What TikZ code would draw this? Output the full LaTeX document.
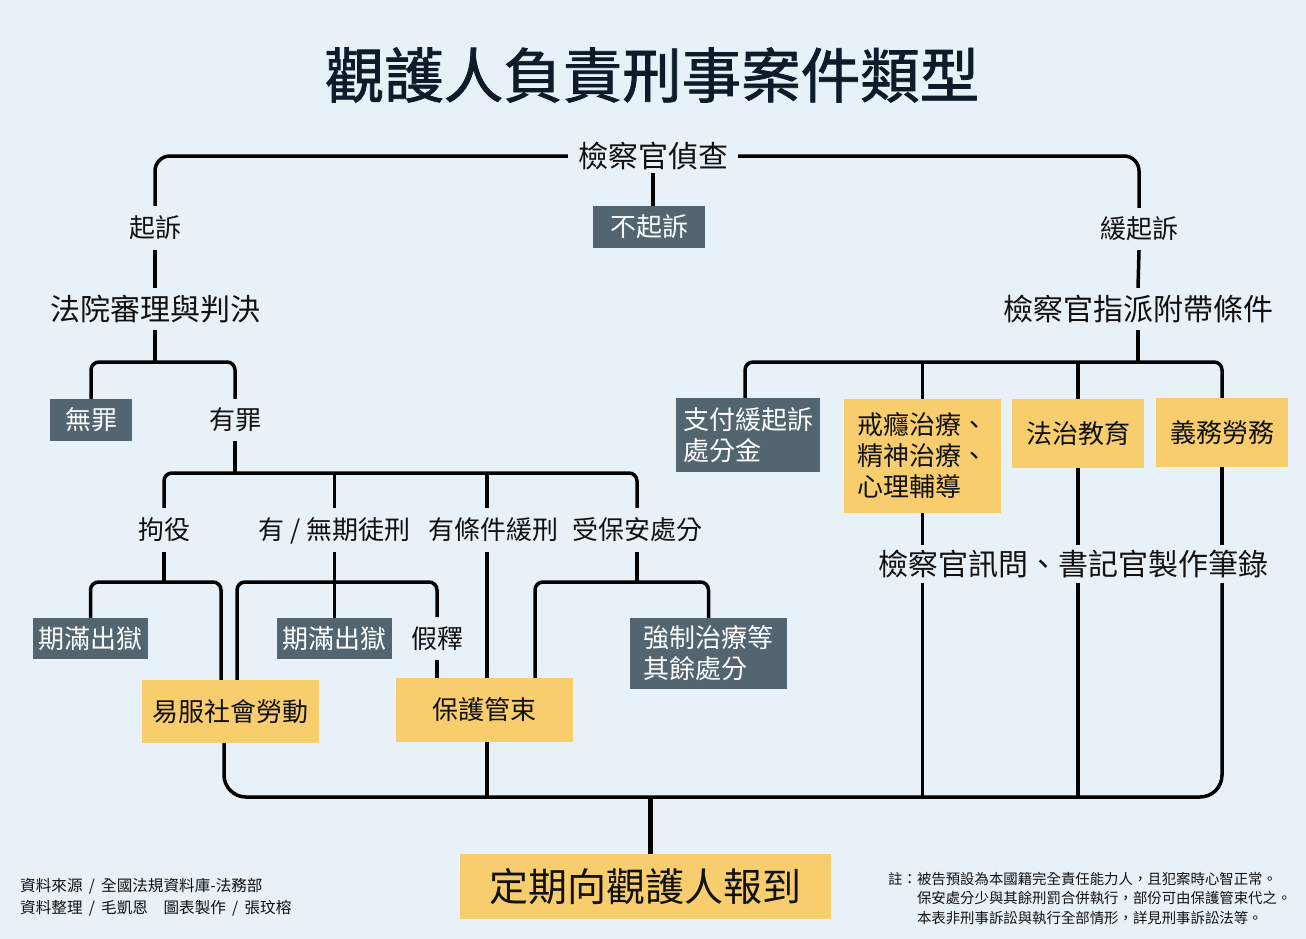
\documentclass[tikz,border=0pt]{standalone}
\usepackage{fontspec}
\setmainfont{Noto Sans CJK TC}
\newfontfamily\titlefont{Noto Sans CJK TC}[FakeBold=1.3]
\newcommand\myslash{\hspace{0.4em}/\hspace{0.4em}}
\definecolor{bgc}{HTML}{E8F1F8}
\definecolor{grayc}{HTML}{536570}
\definecolor{yelc}{HTML}{F7CD6E}
\definecolor{titc}{HTML}{0F1B2B}
\definecolor{txtc}{HTML}{111111}
\begin{document}
\begin{tikzpicture}[x=1pt,y=-1pt,
  conn/.style={line width=3.5pt, draw=black, rounded corners=8pt},
  lbl/.style={inner xsep=0pt, inner ysep=0pt, font=\fontsize{26}{30}\selectfont, text=txtc, text height=19.8pt, text depth=0pt, minimum height=44pt},
  lblbig/.style={inner xsep=0pt, inner ysep=0pt, font=\fontsize{30}{34}\selectfont, text=txtc, text height=22.8pt, text depth=0pt, minimum height=42pt},
  graybox/.style={fill=grayc, text=white, inner sep=0pt, font=\fontsize{26}{31}\selectfont, align=left},
  yelbox/.style={fill=yelc, text=txtc, inner sep=0pt, font=\fontsize{26}{31}\selectfont, align=left},
  onel/.style={text height=19.8pt, text depth=0pt}
]
\useasboundingbox (0,0) rectangle (1306,939);
\fill[bgc] (0,0) rectangle (1306,939);

% title
\node[font=\fontsize{59.5}{64}\selectfont\titlefont, text=titc, inner sep=0pt] (title) at (652,75) {觀護人負責刑事案件類型};

% top
\node[lblbig, inner xsep=10pt, minimum height=34pt] (jc) at (653,156) {檢察官偵查};
\node[graybox, onel, minimum width=112pt, minimum height=42pt] (bqs) at (649,227) {不起訴};

% left branch
\node[lbl] (qs) at (155,228) {起訴};
\node[lblbig] (fy) at (155,309) {法院審理與判決};
\coordinate (b1) at (155,362);
\node[graybox, onel, minimum width=82pt, minimum height=42pt] (wz) at (91,420) {無罪};
\node[lbl, minimum height=42pt] (yz) at (235,420) {有罪};
\coordinate (b2) at (235,473);
\node[lbl] (jy) at (164,530) {拘役};
\node[lbl] (yw) at (334.5,530) {有 / 無期徒刑};
\node[lbl] (yt) at (493,530) {有條件緩刑};
\node[lbl] (bab) at (637,530) {受保安處分};
\coordinate (c487) at (487,473);
\coordinate (b3) at (164,582);
\node[graybox, onel, minimum width=115pt, minimum height=41pt] (qm1) at (90.5,638.5) {期滿出獄};
\node[yelbox, onel, minimum width=177pt, minimum height=63pt] (yf) at (230.5,711.5) {易服社會勞動};
\node[graybox, onel, minimum width=115pt, minimum height=41pt] (qm2) at (334.5,638.5) {期滿出獄};
\node[lbl, minimum height=43pt] (jsh) at (437,638.5) {假釋};
\node[yelbox, onel, minimum width=177pt, minimum height=64pt] (bh) at (484.5,710) {保護管束};
\node[graybox, minimum width=157pt, minimum height=71pt] (qz) at (708.5,653.5) {強制治療等\\其餘處分};

% right branch
\node[lbl, minimum height=42pt] (hqs) at (1139,229) {緩起訴};
\node[lblbig] (zp) at (1138,309) {檢察官指派附帶條件};
\coordinate (b4) at (1138,362);
\node[graybox, minimum width=144pt, minimum height=74pt] (zf) at (748,435) {支付緩起訴\\處分金};
\node[yelbox, minimum width=157pt, minimum height=114pt] (jy1) at (922.5,456) {戒癮治療、\\精神治療、\\心理輔導};
\node[yelbox, onel, minimum width=132pt, minimum height=69pt] (fz) at (1078,433.5) {法治教育};
\node[yelbox, onel, minimum width=132pt, minimum height=69pt] (yw2) at (1222,432.5) {義務勞務};
\node[lblbig, minimum height=38pt] (jx) at (1073,564) {檢察官訊問、書記官製作筆錄};

% bottom
\coordinate (bot) at (650,797);
\node[yelbox, font=\fontsize{39}{44}\selectfont, text height=29.6pt, text depth=0pt, minimum width=371pt, minimum height=65pt] (bd) at (645.5,886.5) {定期向觀護人報到};

% connectors
\draw[conn, rounded corners=15pt] (jc.west) -| (qs.north);
\draw[conn, rounded corners=15pt] (jc.east) -| (hqs.north);
\draw[conn] (jc.south) -- (jc.south |- bqs.north);
\draw[conn] (qs.south) -- (fy.north);
\draw[conn] (fy.south) -- (b1);
\draw[conn] (wz.north) |- (b1) -| (yz.north);
\draw[conn] (yz.south) -- (b2);
\draw[conn] (jy.north) |- (b2) -| (bab.north);
\draw[conn] (yw.north) -- (yw.north |- b2);
\draw[conn] (c487 |- yt.north) -- (c487);
\draw[conn] (jy.south) -- (b3);
\draw[conn] (qm1.north) |- (b3) -| ([xshift=-9.5pt]yf.north);
\draw[conn] (yw.south) -- (yw.south |- qm2.north);
\draw[conn] ([xshift=6.5pt]yf.north) |- (jsh.north |- b3) -- (jsh.north);
\draw[conn] (jsh.south) -- (jsh.south |- bh.north);
\draw[conn] (c487 |- yt.south) -- (c487 |- bh.north);
\draw[conn] (bab.south) -- (bab.south |- b3);
\draw[conn] ([xshift=50.5pt]bh.north) |- (qz.north |- b3) -- (qz.north);

\draw[conn] (hqs.south) -- (zp.north);
\draw[conn] (zp.south) -- (b4);
\draw[conn] ([xshift=-3pt]zf.north) |- (b4) -| (yw2.north);
\draw[conn] (jy1.north) -- (jy1.north |- b4);
\draw[conn] (fz.north) -- (fz.north |- b4);
\draw[conn] (jy1.south) -- (jy1.south |- jx.north);
\draw[conn] (fz.south) -- (fz.south |- jx.north);
\draw[conn] (yw2.south) -- (yw2.south |- jx.north);

\draw[conn, rounded corners=22pt] ([xshift=-6.5pt]yf.south) |- (bot) -| (yw2.south |- jx.south);
\draw[conn] (c487 |- bh.south) -- (c487 |- bot);
\draw[conn] (jy1.south |- jx.south) -- (jy1.south |- bot);
\draw[conn] (fz.south |- jx.south) -- (fz.south |- bot);
\draw[conn, line width=5pt] (bot) -- (bot |- bd.north);

% footers
\node[anchor=west, align=left, inner sep=0pt, text=txtc, font=\fontsize{15.6}{22}\selectfont] (src) at (20,897.5) {資料來源\myslash 全國法規資料庫-法務部\\資料整理\myslash 毛凱恩　圖表製作\myslash 張玟榕};
\node[anchor=west, align=left, inner sep=0pt, text=txtc, font=\fontsize{14.4}{19.5}\selectfont] (note) at (888,898.5) {註：被告預設為本國籍完全責任能力人，且犯案時心智正常。\\\hspace*{2em}保安處分少與其餘刑罰合併執行，部份可由保護管束代之。\\\hspace*{2em}本表非刑事訴訟與執行全部情形，詳見刑事訴訟法等。};
\end{tikzpicture}
\end{document}
